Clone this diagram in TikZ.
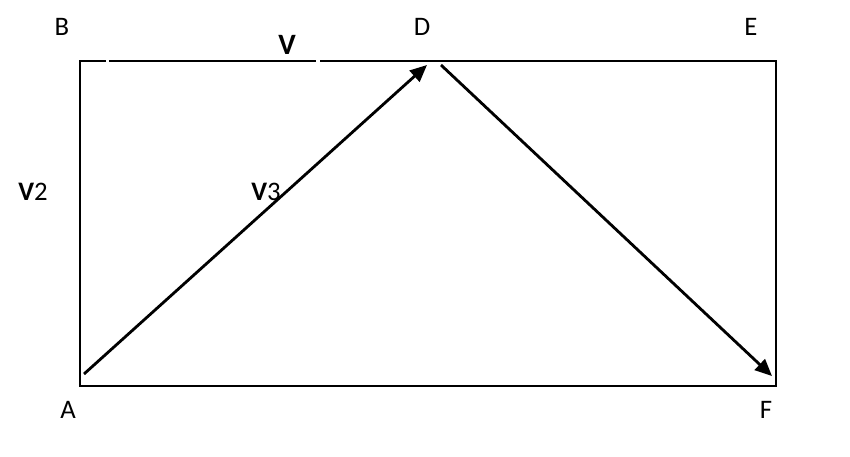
\documentclass[tikz,border=0pt]{standalone}
\usepackage{fontspec}
\setmainfont{Carlito}
\usepackage{tikz}
\usetikzlibrary{arrows.meta}

\begin{document}
\begin{tikzpicture}[x=0.01cm,y=-0.01cm]
\useasboundingbox (0,0) rectangle (850,457);
% corners of the box
\coordinate (cA) at (80,386);
\coordinate (cB) at (80,61);
\coordinate (cE) at (776,61);
\coordinate (cF) at (776,386);
\coordinate (g1) at (106,61);
\coordinate (g2) at (109,61);
\coordinate (g3) at (316,61);
\coordinate (g4) at (320,61);
% ends of the two vectors
\coordinate (p0) at (84,374);
\coordinate (p1) at (427,65);
\coordinate (p2) at (441,65);
\coordinate (p3) at (772,376);

\begin{scope}[every node/.style={font=\fontsize{7.6}{9}\selectfont,inner sep=0pt}]
    \node (A) at (68,410) {A};
    \node (B) at (62,27) {B};
    \node (D) at (422,27) {D};
    \node (E) at (751,27) {E};
    \node (F) at (766,410) {F};
    \node (V) at (287,45) {\fontsize{8.4}{9}\selectfont\textbf{V}};
    \node (V2) at (33,192) {\textbf{V}2};
    \node (V3) at (266,192) {\textbf{V}3};
\end{scope}

\begin{scope}[line width=0.6pt]
    \draw (g1) -- (cB) -- (cA) -- (cF) -- (cE) -- (g4);
    \draw (g2) -- (g3);
\end{scope}

\begin{scope}[>={Triangle[length=4.8pt,width=4.2pt]},
              every edge/.style={draw,line width=0.8pt}]
    \path [->] (p0) edge (p1);
    \path [->] (p2) edge (p3);
\end{scope}
\end{tikzpicture}
\end{document}
